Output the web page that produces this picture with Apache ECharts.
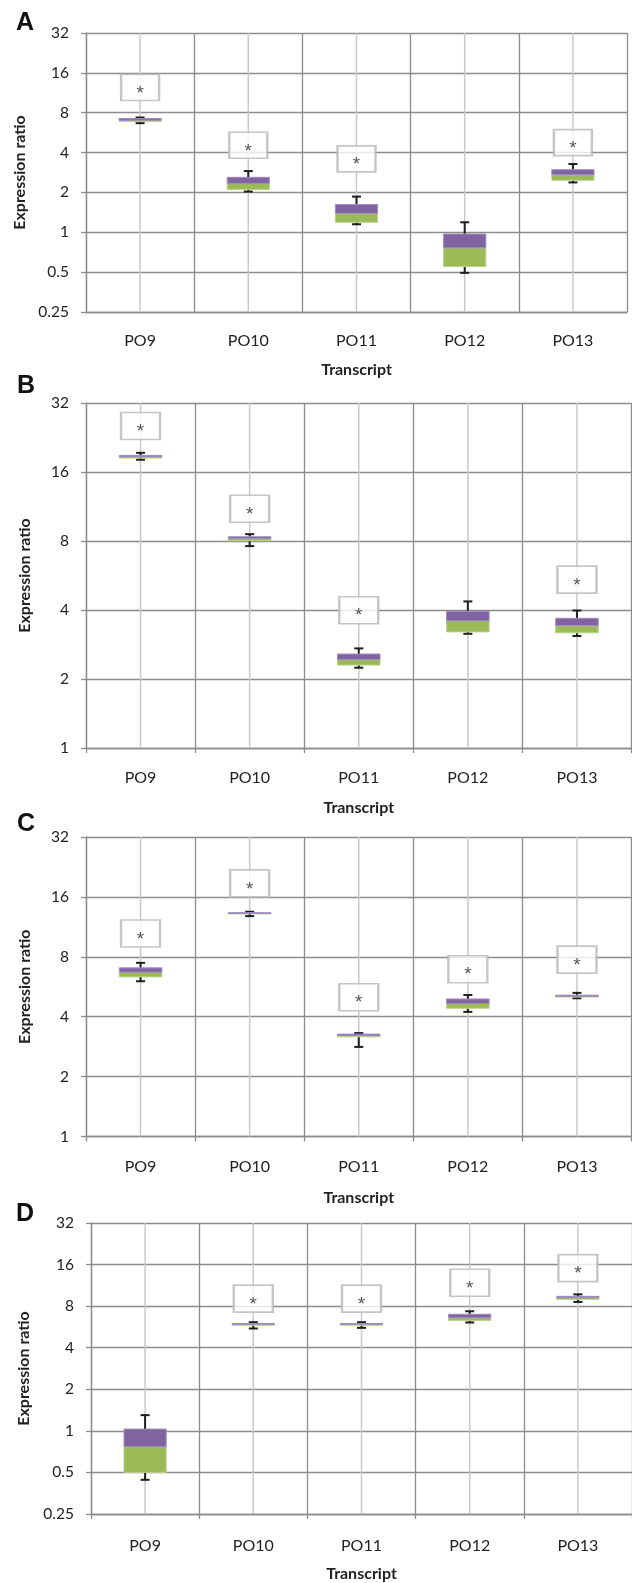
<!DOCTYPE html>
<html>
<head>
<meta charset="utf-8">
<script src="https://cdn.jsdelivr.net/npm/echarts@6/dist/echarts.min.js"></script>
<style>
html,body{margin:0;padding:0;background:#fff;}
#chart{width:632px;height:1583px;}
</style>
</head>
<body>
<div id="chart"></div>
<script>
// ---------- data ----------
const categories = ['PO9', 'PO10', 'PO11', 'PO12', 'PO13'];
const ticksWide = ['0.25', '0.5', '1', '2', '4', '8', '16', '32'];
const ticksNarrow = ['1', '2', '4', '8', '16', '32'];

// Panel A
const aMin = [6.67, 2.03, 1.15, 0.494, 2.38];
const aQ1  = [6.86, 2.10, 1.19, 0.551, 2.47];
const aMed = [7.02, 2.34, 1.39, 0.763, 2.72];
const aQ3  = [7.23, 2.60, 1.62, 0.97, 2.97];
const aMax = [7.36, 2.90, 1.86, 1.19, 3.28];
const aStar = [12.4, 4.54, 3.58, null, 4.76];

// Panel B
const bMin = [18.1, 7.60, 2.24, 3.15, 3.08];
const bQ1  = [18.4, 8.02, 2.30, 3.21, 3.18];
const bMed = [18.65, 8.21, 2.43, 3.59, 3.42];
const bQ3  = [18.9, 8.35, 2.57, 3.95, 3.68];
const bMax = [19.4, 8.57, 2.72, 4.36, 3.98];
const bStar = [25.4, 11.06, 3.99, null, 5.43];

// Panel C
const cMin = [6.03, 12.81, 2.82, 4.23, 4.95];
const cQ1  = [6.34, 13.20, 3.17, 4.41, 5.03];
const cMed = [6.69, 13.26, 3.22, 4.66, 5.07];
const cQ3  = [7.04, 13.33, 3.27, 4.91, 5.13];
const cMax = [7.46, 13.47, 3.31, 5.14, 5.27];
const cStar = [10.48, 18.7, 5.01, 6.93, 7.75];

// Panel D
const dMin = [0.442, 5.51, 5.57, 6.09, 8.58];
const dQ1  = [0.50, 5.82, 5.82, 6.29, 8.96];
const dMed = [0.769, 5.92, 5.92, 6.58, 9.22];
const dQ3  = [1.03, 5.99, 5.99, 6.99, 9.42];
const dMax = [1.30, 6.12, 6.12, 7.35, 9.74];
const dStar = [null, 9.06, 9.06, 11.82, 15.08];

const panelLetters = ['A', 'B', 'C', 'D'];
const xTitle = 'Transcript';
const yTitle = 'Expression ratio';

// ---------- layout / style ----------
const panels = [
  {letter: 0, min: aMin, q1: aQ1, med: aMed, q3: aQ3, max: aMax, star: aStar, ticks: ticksWide,
   grid: {left: 86, top: 33, width: 541, height: 279}, yMin: 0.25, yMax: 32,
   letterPos: [16, 24], labelMargin: 21, xNameGap: 50, yNameGap: 39, xTicks: false, starSize: [38, 26]},
  {letter: 1, min: bMin, q1: bQ1, med: bMed, q3: bQ3, max: bMax, star: bStar, ticks: ticksNarrow,
   grid: {left: 86, top: 403, width: 545.5, height: 345}, yMin: 1, yMax: 32,
   letterPos: [17, 387], labelMargin: 22, xNameGap: 52, yNameGap: 53, xTicks: true, starSize: [39, 27]},
  {letter: 2, min: cMin, q1: cQ1, med: cMed, q3: cQ3, max: cMax, star: cStar, ticks: ticksNarrow,
   grid: {left: 86, top: 837, width: 545.5, height: 299.5}, yMin: 1, yMax: 32,
   letterPos: [17, 825], labelMargin: 22.5, xNameGap: 53, yNameGap: 53, xTicks: true, starSize: [39, 27]},
  {letter: 3, min: dMin, q1: dQ1, med: dMed, q3: dQ3, max: dMax, star: dStar, ticks: ticksWide,
   grid: {left: 91, top: 1223, width: 541, height: 292}, yMin: 0.25, yMax: 32,
   letterPos: [16, 1215], labelMargin: 24, xNameGap: 52, yNameGap: 59, xTicks: true, starSize: [39, 27]}
];

const FONT = 'Lato, "Open Sans", sans-serif';
const GRID_COLOR = '#8c8c8c';
const CENTER_COLOR = '#c9c9c9';
const PURPLE = '#8064A2';
const PURPLE_EDGE = '#a08bc2';
const GREEN = '#9BBB59';
const GREEN_EDGE = '#b9d28a';
const WHISKER = '#1e1e1e';

function centerLineRender(params, api) {
  const cs = params.coordSys;
  const x = api.coord([api.value(0), 1])[0];
  return {
    type: 'line',
    shape: {x1: x, y1: cs.y, x2: x, y2: cs.y + cs.height},
    style: {stroke: CENTER_COLOR, lineWidth: 1.5}
  };
}

function boxRender(params, api) {
  const cs = params.coordSys;
  const i = api.value(0);
  const pMin = api.coord([i, api.value(1)]);
  const pQ1 = api.coord([i, api.value(2)]);
  const pMed = api.coord([i, api.value(3)]);
  const pQ3 = api.coord([i, api.value(4)]);
  const pMax = api.coord([i, api.value(5)]);
  const cx = pMed[0];
  const bw = cs.width / categories.length * 0.39;
  const cap = 4.5;
  const lineStyle = {stroke: WHISKER, lineWidth: 2};
  return {
    type: 'group',
    children: [
      {type: 'line', shape: {x1: cx, y1: pQ3[1], x2: cx, y2: pMax[1]}, style: lineStyle},
      {type: 'line', shape: {x1: cx - cap, y1: pMax[1], x2: cx + cap, y2: pMax[1]}, style: lineStyle},
      {type: 'line', shape: {x1: cx, y1: pQ1[1], x2: cx, y2: pMin[1]}, style: lineStyle},
      {type: 'line', shape: {x1: cx - cap, y1: pMin[1], x2: cx + cap, y2: pMin[1]}, style: lineStyle},
      {type: 'rect', shape: {x: cx - bw / 2, y: pMed[1], width: bw, height: Math.max(pQ1[1] - pMed[1], 0.8)},
       style: {fill: GREEN, stroke: GREEN_EDGE, lineWidth: 1}},
      {type: 'rect', shape: {x: cx - bw / 2, y: pQ3[1], width: bw, height: Math.max(pMed[1] - pQ3[1], 0.8)},
       style: {fill: PURPLE, stroke: PURPLE_EDGE, lineWidth: 1}}
    ]
  };
}

const option = {
  animation: false,
  backgroundColor: '#fff',
  grid: [], xAxis: [], yAxis: [], series: [], graphic: []
};

panels.forEach((p, k) => {
  option.grid.push(Object.assign({containLabel: false}, p.grid));
  option.xAxis.push({
    type: 'category', gridIndex: k, data: categories, boundaryGap: true,
    name: xTitle, nameLocation: 'middle', nameGap: p.xNameGap,
    nameTextStyle: {fontFamily: FONT, fontWeight: 'bold', fontSize: 16, color: '#222'},
    axisLine: {show: true, lineStyle: {color: GRID_COLOR, width: 1.3}},
    axisTick: {show: p.xTicks, length: 5, lineStyle: {color: GRID_COLOR, width: 1.3}},
    axisLabel: {fontFamily: FONT, fontSize: 16, color: '#222', margin: p.labelMargin, interval: 0},
    splitLine: {show: true, lineStyle: {color: GRID_COLOR, width: 1.3}}
  });
  option.yAxis.push({
    type: 'log', logBase: 2, gridIndex: k, min: p.yMin, max: p.yMax,
    name: yTitle, nameLocation: 'middle', nameGap: p.yNameGap,
    nameTextStyle: {fontFamily: FONT, fontWeight: 'bold', fontSize: 16, color: '#222'},
    axisLine: {show: true, lineStyle: {color: GRID_COLOR, width: 1.3}},
    axisTick: {show: true, length: 5, lineStyle: {color: GRID_COLOR, width: 1.3}},
    axisLabel: {
      fontFamily: FONT, fontSize: 15.5, color: '#222', margin: 17,
      formatter: v => p.ticks.find(t => Math.abs(+t - v) < 1e-6) || String(v)
    },
    splitLine: {show: true, lineStyle: {color: GRID_COLOR, width: 1.3}}
  });
  option.series.push({
    type: 'custom', xAxisIndex: k, yAxisIndex: k, z: 1, silent: true,
    renderItem: centerLineRender,
    data: categories.map((c, i) => [i])
  });
  option.series.push({
    type: 'custom', xAxisIndex: k, yAxisIndex: k, z: 3, silent: true,
    renderItem: boxRender,
    encode: {x: 0, y: [1, 2, 3, 4, 5]},
    data: categories.map((c, i) => [i, p.min[i], p.q1[i], p.med[i], p.q3[i], p.max[i]])
  });
  option.series.push({
    type: 'scatter', xAxisIndex: k, yAxisIndex: k, z: 4, silent: true,
    symbol: 'rect', symbolSize: p.starSize,
    itemStyle: {color: '#fff', borderColor: '#b8b8b8', borderWidth: 2},
    label: {show: true, position: 'inside', formatter: '*',
            fontFamily: '"Liberation Sans", Arial, sans-serif', fontSize: 19,
            color: '#2a2a2a', offset: [0, 6]},
    data: p.star.map((v, i) => v == null ? null : [i, v]).filter(d => d)
  });
  option.graphic.push({
    type: 'text', left: p.letterPos[0], top: p.letterPos[1] - 13,
    style: {text: panelLetters[p.letter], font: 'bold 25px "Liberation Sans", Arial, sans-serif', fill: '#111'}
  });
});

const chart = echarts.init(document.getElementById('chart'), null, {renderer: 'canvas'});
chart.setOption(option);
</script>
</body>
</html>
